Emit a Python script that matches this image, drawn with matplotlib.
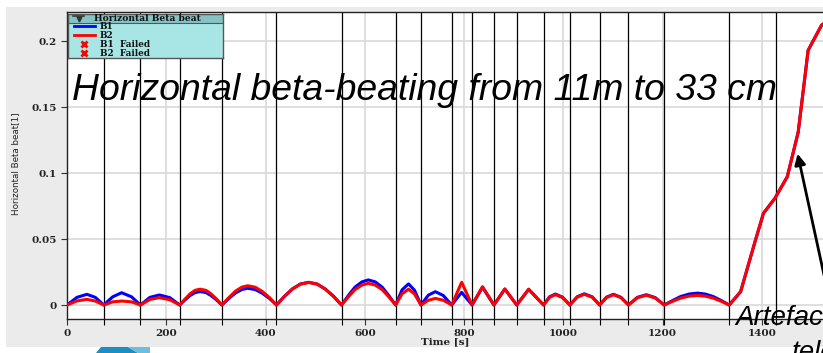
import matplotlib
matplotlib.use("Agg")
from matplotlib import pyplot as plt
from matplotlib.patches import Rectangle, Polygon
from matplotlib.lines import Line2D

# Horizontal beta-beat during the squeeze, one arch per optics step
time_s = [0, 20, 40, 57, 74,
          92, 110, 130, 148,
          167, 186, 207, 227,
          238, 248, 258, 268, 280, 290, 301, 312,
          326, 339, 352, 364, 379, 393, 408, 422,
          438, 454, 470, 487, 504, 520, 537, 553,
          567, 580, 594, 607, 621, 635, 648, 662,
          675, 688, 700, 713,
          728, 742, 758, 775,
          795, 816,
          837, 860,
          882, 906,
          930, 960,
          972, 984, 998, 1013,
          1028, 1042, 1058, 1073,
          1087, 1101, 1116, 1131,
          1149, 1167, 1185, 1203,
          1220, 1236, 1253, 1270, 1286, 1302, 1318, 1334,
          1357, 1386, 1403, 1426, 1451, 1473, 1493, 1520, 1535]
beat_b1 = [0, 0.0058, 0.0081, 0.0058, 0,
           0.0062, 0.0093, 0.0062, 0,
           0.0058, 0.0076, 0.0056, 0,
           0.0039, 0.0072, 0.0094, 0.0102, 0.0094, 0.0072, 0.0039, 0,
           0.0049, 0.0090, 0.0117, 0.0127, 0.0117, 0.0090, 0.0049, 0,
           0.0066, 0.0122, 0.0159, 0.0172, 0.0159, 0.0122, 0.0066, 0,
           0.0073, 0.0135, 0.0175, 0.0190, 0.0175, 0.0135, 0.0073, 0,
           0.0115, 0.0160, 0.0112, 0,
           0.0075, 0.0101, 0.0072, 0,
           0.0096, 0,
           0.0134, 0,
           0.0121, 0,
           0.0119, 0,
           0.0062, 0.0083, 0.0060, 0,
           0.0063, 0.0085, 0.0062, 0,
           0.0060, 0.0081, 0.0058, 0,
           0.0058, 0.0078, 0.0056, 0,
           0.0034, 0.0064, 0.0083, 0.0090, 0.0083, 0.0064, 0.0034, 0,
           0.0101, 0.048, 0.0695, 0.0808, 0.0972, 0.131, 0.193, 0.212, 0.216]
beat_b2 = [0, 0.0031, 0.0043, 0.0030, 0,
           0.0024, 0.0030, 0.0024, 0,
           0.0042, 0.0056, 0.0040, 0,
           0.0046, 0.0085, 0.0111, 0.0120, 0.0111, 0.0085, 0.0046, 0,
           0.0056, 0.0104, 0.0135, 0.0146, 0.0135, 0.0104, 0.0056, 0,
           0.0065, 0.0121, 0.0158, 0.0171, 0.0158, 0.0121, 0.0065, 0,
           0.0063, 0.0116, 0.0151, 0.0164, 0.0151, 0.0116, 0.0063, 0,
           0.0085, 0.0120, 0.0084, 0,
           0.0036, 0.0050, 0.0036, 0,
           0.0172, 0,
           0.0139, 0,
           0.0121, 0,
           0.0119, 0,
           0.0058, 0.0079, 0.0057, 0,
           0.0060, 0.0081, 0.0059, 0,
           0.0057, 0.0078, 0.0056, 0,
           0.0055, 0.0074, 0.0053, 0,
           0.0028, 0.0052, 0.0067, 0.0073, 0.0067, 0.0052, 0.0028, 0,
           0.0101, 0.048, 0.0695, 0.0808, 0.0972, 0.131, 0.193, 0.212, 0.216]

# times of the optics changes (black markers)
step_times = [74, 148, 227, 312, 422, 553, 662, 713, 775, 816, 860, 906,
              960, 1013, 1073, 1131, 1203, 1334, 1428]

x_ticks = [0, 200, 400, 600, 800, 1000, 1200, 1400]
x_labels = ["0", "200", "400", "600", "800", "1000", "1200", "1400"]
y_ticks = [0, 0.05, 0.1, 0.15, 0.2]
y_labels = ["0", "0.05", "0.1", "0.15", "0.2"]

W, H = 823, 353
fig = plt.figure(figsize=(W / 100, H / 100), dpi=100)
fig.patch.set_facecolor("white")
fig.patches.append(Rectangle((6 / W, 6 / H), 817 / W, 340 / H, transform=fig.transFigure,
                             facecolor="#ebebeb", edgecolor="none", zorder=-5))

ax = fig.add_axes([67 / W, 34 / H, 760 / W, 307 / H])
ax.set_facecolor("white")
ax.set_xlim(0, 1531)
ax.set_ylim(-0.0106, 0.222)
ax.set_axisbelow(True)
ax.grid(True, color="#d9d9d9", lw=1.2)

for t in step_times:
    ax.axvline(t, color="black", lw=0.9, zorder=1.5)

ax.plot(time_s, beat_b1, color="#0000ff", lw=2.2, solid_joinstyle="round", zorder=3)
ax.plot(time_s, beat_b2, color="#ff0000", lw=2.2, solid_joinstyle="round", zorder=4)

ax.set_xticks(x_ticks, x_labels)
ax.set_yticks(y_ticks, y_labels)
ax.set_xticks(step_times, minor=True)
ax.tick_params(which="both", direction="out", length=4, width=0.8, color="#333333",
               labelsize=7.5, labelcolor="#222222", labelfontfamily="DejaVu Serif")
ax.tick_params(which="minor", color="black")
for lab in ax.get_xticklabels() + ax.get_yticklabels():
    lab.set_fontweight("bold")
for sp in ax.spines.values():
    sp.set_color("#222222")
    sp.set_linewidth(1.0)

fig.text(15.7 / W, 1 - 164 / H, "Horizontal Beta beat[1]", rotation=90, fontsize=6.3,
         ha="center", va="center", color="#222222")
fig.text(445 / W, 1 - 342 / H, "Time [s]", fontsize=7.5, fontweight="bold",
         family="DejaVu Serif", ha="center", va="center", color="#222222")

# legend panel
lg = fig.add_axes([68 / W, 1 - 58 / H, 155 / W, 44 / H])
lg.set_xlim(0, 155)
lg.set_ylim(44, 0)
lg.set_facecolor("#a8e6e6")
lg.set_xticks([])
lg.set_yticks([])
for sp in lg.spines.values():
    sp.set_color("#555555")
    sp.set_linewidth(1.0)
lg.add_patch(Rectangle((0, 0), 155, 8.5, facecolor="#86c4c4", edgecolor="#555555", lw=0.8))
lg.plot([5, 16], [2.2, 2.2], color="#333333", lw=1.2)
lg.plot([10.5], [4.8], marker="v", ms=3.5, color="#333333")
lg.text(26, 4.6, "Horizontal Beta beat", fontsize=6.6, fontweight="bold",
        family="DejaVu Serif", va="center", color="#111111")
entries = [("B1", dict(color="#0000ff", lw=2)),
           ("B2", dict(color="#ff0000", lw=2)),
           ("B1  Failed", dict(color="#ff0000", ls="none", marker="x", ms=4.5, mew=2)),
           ("B2  Failed", dict(color="#ff0000", ls="none", marker="x", ms=4.5, mew=2))]
for i, (name, style) in enumerate(entries):
    yy = 12.3 + i * 9
    if style.get("marker"):
        lg.add_line(Line2D([16], [yy], **style))
    else:
        lg.add_line(Line2D([6, 27], [yy, yy], **style))
    lg.text(32, yy, name, fontsize=6.4, fontweight="bold", family="DejaVu Serif",
            va="center", color="#111111")

# slide annotations on top of the plot
fig.text(72 / W, 1 - 100 / H, "Horizontal beta-beating from 11m to 33 cm",
         fontsize=26.9, style="italic", family="Liberation Sans", va="baseline", color="black")
fig.text(735 / W, 1 - 325 / H, "Artefacts", fontsize=20, style="italic",
         family="Liberation Sans", va="baseline", color="black")
fig.text(792 / W, 1 - 360 / H, "telescope", fontsize=20, style="italic",
         family="Liberation Sans", va="baseline", color="black")
ax.annotate("", xy=(797, H - 151), xytext=(841, 0), xycoords="figure pixels",
            textcoords="figure pixels",
            arrowprops=dict(arrowstyle="-|>", lw=2, color="black", mutation_scale=16))

# logo fragments along the bottom edge
fig.patches.append(Polygon([(96 / W, 0), (101 / W, 6 / H), (128 / W, 6 / H), (138 / W, 0)],
                           closed=True, transform=fig.transFigure, facecolor="#1b8fc4",
                           edgecolor="none"))
fig.patches.append(Polygon([(128 / W, 6 / H), (150 / W, 6 / H), (150 / W, 0), (138 / W, 0)],
                           closed=True, transform=fig.transFigure, facecolor="#6cc0de",
                           edgecolor="none"))

fig.savefig("out.png", dpi=100)
